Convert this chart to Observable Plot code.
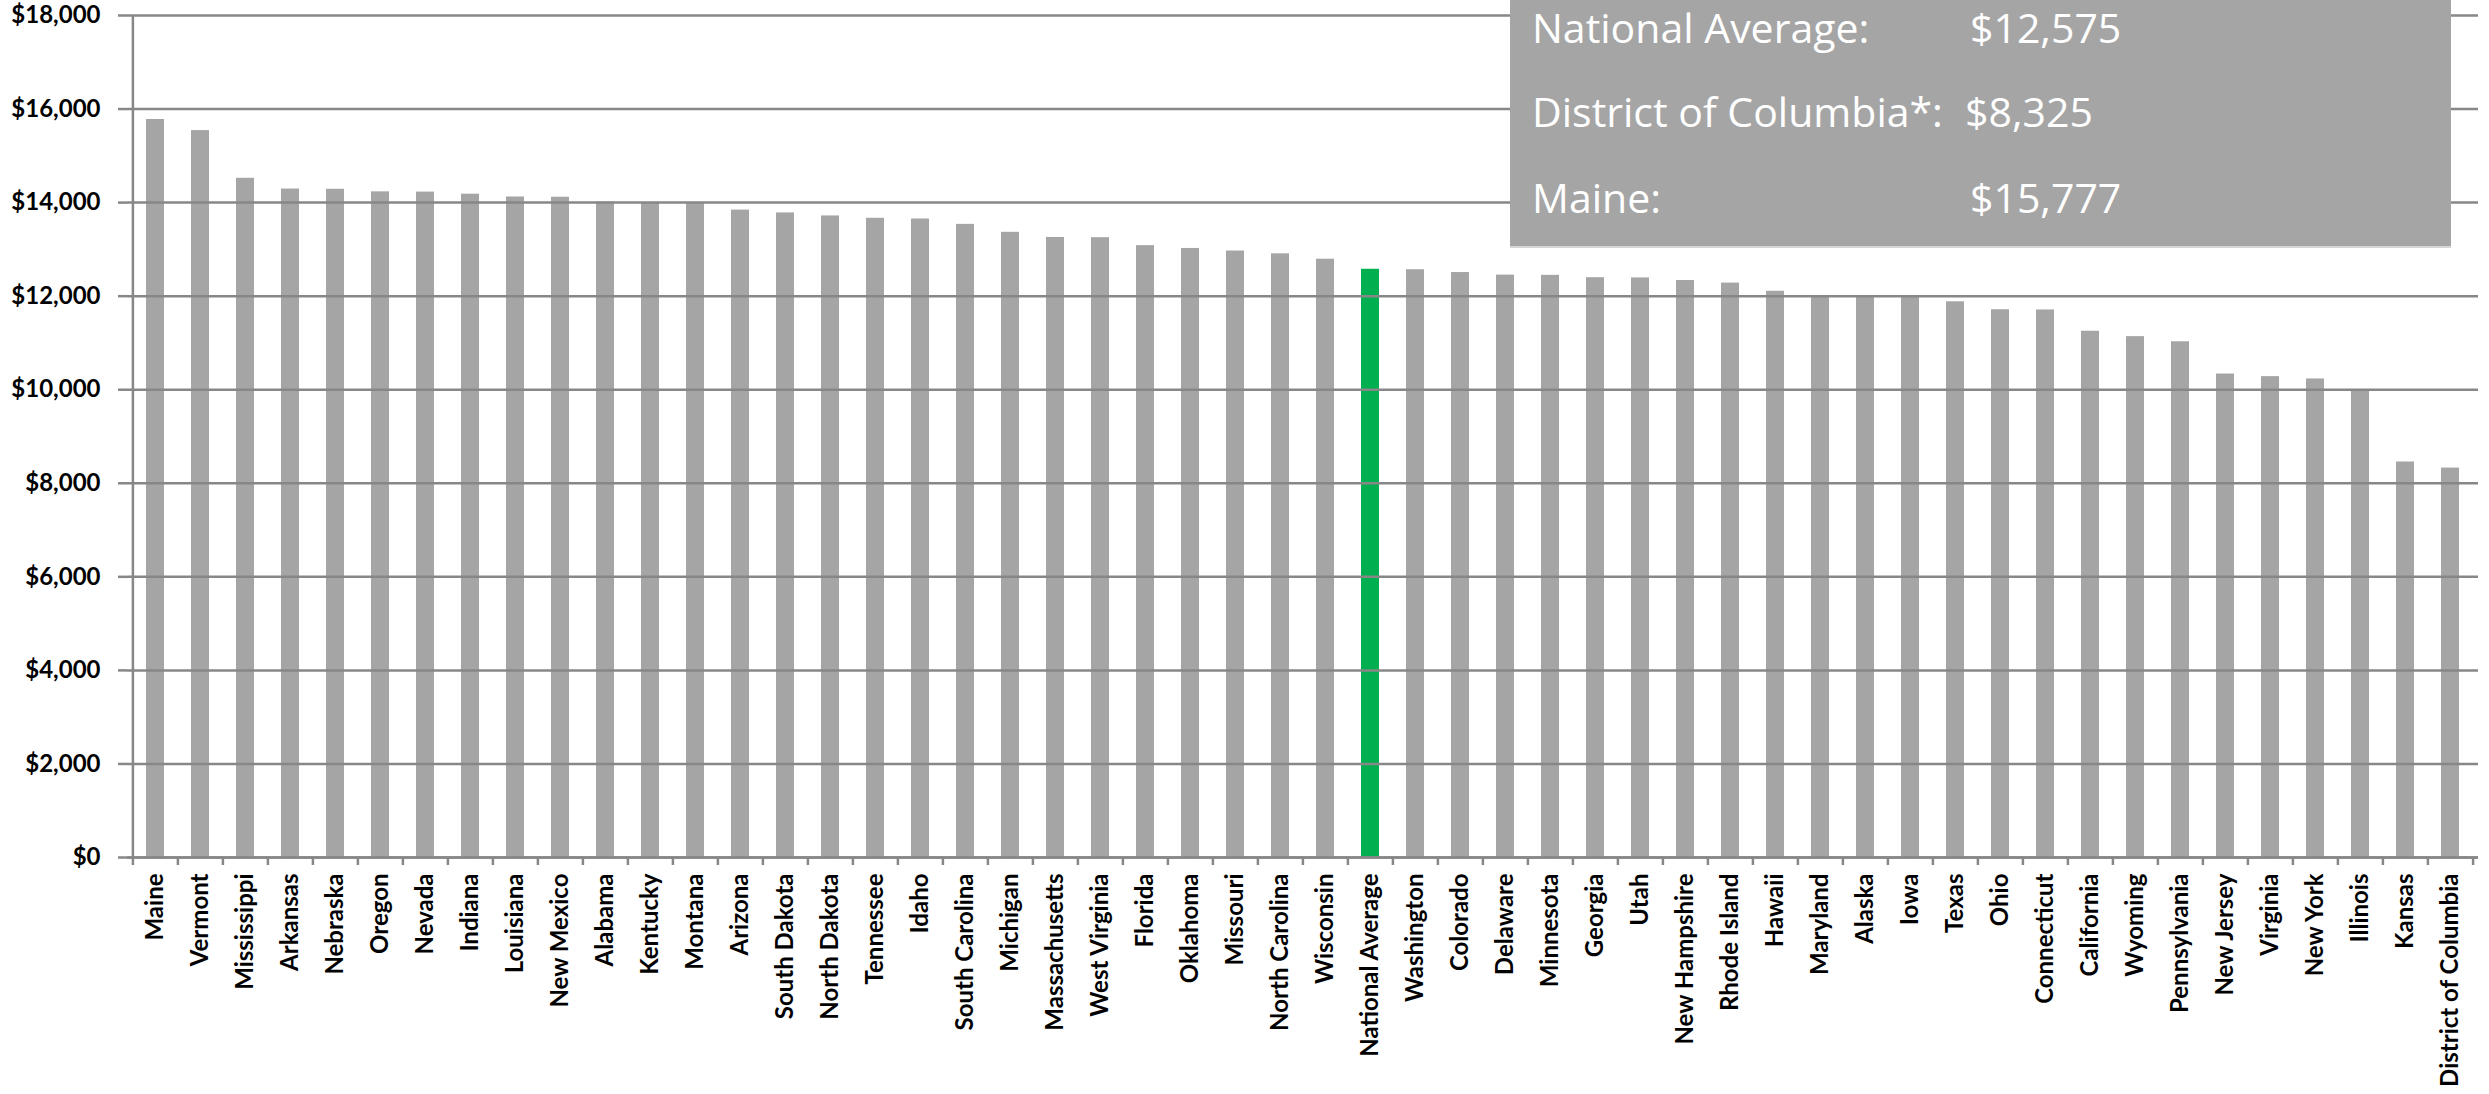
<!DOCTYPE html>
<html>
<head>
<meta charset="utf-8">
<script src="https://cdn.jsdelivr.net/npm/d3@7"></script>
<script src="https://cdn.jsdelivr.net/npm/@observablehq/plot@0.6"></script>
<style>
  body { margin: 0; background: #fff; }
  #wrap { position: relative; width: 2489px; height: 1094px; overflow: hidden; background: #fff; }
  #box { position: absolute; left: 1510px; top: 0; width: 941px; height: 246px; background: #a5a5a5; border-bottom: 2px solid #d6d6d6; }
  #box svg { position: absolute; left: 0; top: 0; }
</style>
</head>
<body>
<div id="wrap"><div id="chart"></div><div id="box"></div></div>
<script>
const states = [
  "Maine", "Vermont", "Mississippi", "Arkansas", "Nebraska", "Oregon", "Nevada", "Indiana",
  "Louisiana", "New Mexico", "Alabama", "Kentucky", "Montana", "Arizona", "South Dakota",
  "North Dakota", "Tennessee", "Idaho", "South Carolina", "Michigan", "Massachusetts",
  "West Virginia", "Florida", "Oklahoma", "Missouri", "North Carolina", "Wisconsin",
  "National Average", "Washington", "Colorado", "Delaware", "Minnesota", "Georgia", "Utah",
  "New Hampshire", "Rhode Island", "Hawaii", "Maryland", "Alaska", "Iowa", "Texas", "Ohio",
  "Connecticut", "California", "Wyoming", "Pennsylvania", "New Jersey", "Virginia",
  "New York", "Illinois", "Kansas", "District of Columbia"
];
const values = [
  15777, 15540, 14520, 14290, 14285, 14230, 14225, 14180,
  14120, 14115, 14010, 14000, 14000, 13840, 13780,
  13715, 13665, 13650, 13535, 13365, 13255,
  13250, 13080, 13020, 12965, 12905, 12790,
  12575, 12565, 12505, 12450, 12445, 12395, 12390,
  12335, 12280, 12105, 12000, 11995, 11995, 11880, 11710,
  11705, 11250, 11135, 11025, 10335, 10280,
  10230, 10000, 8455, 8325
];
const yTicks = [0, 2000, 4000, 6000, 8000, 10000, 12000, 14000, 16000, 18000];
const highlight = "National Average";
const boxRows = [
  {label: "National Average:", state: "National Average"},
  {label: "District of Columbia*:", state: "District of Columbia"},
  {label: "Maine:", state: "Maine"}
];

const data = states.map((s, i) => ({state: s, value: values[i]}));

const W = 2489, H = 1094, ML = 127, MR = 11, MT = 15, MB = 237;
const step = (W - ML - MR) / states.length;
const gray = "#a5a5a5", green = "#00b050", gridColor = "#878787";
const money = d => "$" + d3.format(",")(d);

const chart = Plot.plot({
  width: W, height: H,
  marginTop: MT, marginBottom: MB, marginLeft: ML, marginRight: MR,
  x: {domain: states, paddingInner: 0.6, paddingOuter: 0.3, label: null},
  y: {domain: [0, 18000], label: null},
  style: {background: "white"},
  marks: [
    Plot.barY(data, {x: "state", y: "value", fill: d => d.state === highlight ? green : gray}),
    Plot.gridY(yTicks, {stroke: gridColor, strokeOpacity: 1, strokeWidth: 2.5}),
    Plot.axisY(yTicks, {
      tickSize: 9, tickPadding: 18, stroke: gridColor, strokeWidth: 2.5,
      tickFormat: money, fontSize: 24, fontWeight: "bold", fontFamily: "Lato",
      fill: "#000", label: null
    }),
    Plot.ruleX([states[0]], {dx: -step / 2, stroke: gridColor, strokeWidth: 2.5}),
    Plot.ruleY([0], {stroke: gridColor, strokeWidth: 2.5}),
    Plot.axisX({tickSize: 8, dx: -step / 2, fill: "none", stroke: gridColor, strokeWidth: 2.5, label: null}),
    Plot.axisX([states[states.length - 1]], {tickSize: 8, dx: step / 2, fill: "none", stroke: gridColor, strokeWidth: 2.5, label: null}),
    Plot.axisX({
      tickSize: 0, tickPadding: 16, tickRotate: -90,
      fontSize: 24, fontWeight: "bold", fontFamily: "Lato",
      fill: "#000", label: null
    })
  ]
});
document.getElementById("chart").appendChild(chart);

// annotation box
const valueOf = s => values[states.indexOf(s)];
const box = d3.select("#box").append("svg").attr("width", 941).attr("height", 246);
const baselines = [43, 127, 213];
const valueX = [460, 455, 460];
boxRows.forEach((r, i) => {
  box.append("text")
    .attr("x", 22).attr("y", baselines[i])
    .attr("font-family", "Open Sans").attr("font-size", 41).attr("fill", "#fff")
    .text(r.label);
  box.append("text")
    .attr("x", valueX[i]).attr("y", baselines[i])
    .attr("font-family", "Open Sans").attr("font-size", 41).attr("fill", "#fff")
    .text(money(valueOf(r.state)));
});
</script>
</body>
</html>
